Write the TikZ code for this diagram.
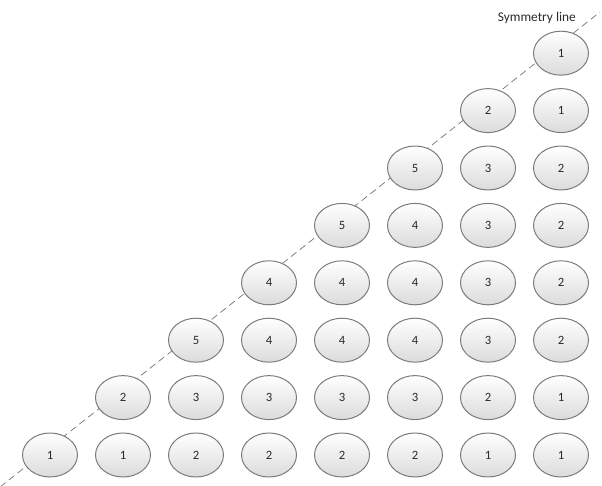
\documentclass[tikz,border=0pt]{standalone}
\usepackage{fontspec}
\setmainfont{Carlito}
\definecolor{rimgray}{HTML}{7A7A7A}
\definecolor{txtgray}{HTML}{2A2A2A}
\tikzset{
  cell/.style={ellipse,draw=rimgray,line width=0.7pt,top color=white,bottom color=black!14,
    minimum width=1.375cm,minimum height=1.1cm,inner sep=0pt,
    font=\fontsize{9}{10.8}\selectfont,text=txtgray},
  symline/.style={dashed,dash pattern=on 5pt off 3pt,color=black!55,line width=0.5pt}
}
\usetikzlibrary{shapes.geometric}

\begin{document}
\begin{tikzpicture}
	\useasboundingbox (0,0) rectangle (15.05,12.125);
	% symmetry line (behind the cells)
	\coordinate (symA) at (0,-0.05);
	\coordinate (symB) at (15.0,11.825);
	\draw[symline] (symA) -- (symB);
	\node[font=\fontsize{9.5}{11}\selectfont,text=txtgray] (symlabel) at (13.42,11.68) {Symmetry line};
	% row 1
	\node[cell] (c11) at (1.25,0.75) {1};
	\node[cell] (c12) at (3.075,0.75) {1};
	\node[cell] (c13) at (4.9,0.75) {2};
	\node[cell] (c14) at (6.725,0.75) {2};
	\node[cell] (c15) at (8.55,0.75) {2};
	\node[cell] (c16) at (10.375,0.75) {2};
	\node[cell] (c17) at (12.2,0.75) {1};
	\node[cell] (c18) at (14.025,0.75) {1};
	% row 2
	\node[cell] (c22) at (3.075,2.185) {2};
	\node[cell] (c23) at (4.9,2.185) {3};
	\node[cell] (c24) at (6.725,2.185) {3};
	\node[cell] (c25) at (8.55,2.185) {3};
	\node[cell] (c26) at (10.375,2.185) {3};
	\node[cell] (c27) at (12.2,2.185) {2};
	\node[cell] (c28) at (14.025,2.185) {1};
	% row 3
	\node[cell] (c33) at (4.9,3.62) {5};
	\node[cell] (c34) at (6.725,3.62) {4};
	\node[cell] (c35) at (8.55,3.62) {4};
	\node[cell] (c36) at (10.375,3.62) {4};
	\node[cell] (c37) at (12.2,3.62) {3};
	\node[cell] (c38) at (14.025,3.62) {2};
	% row 4
	\node[cell] (c44) at (6.725,5.055) {4};
	\node[cell] (c45) at (8.55,5.055) {4};
	\node[cell] (c46) at (10.375,5.055) {4};
	\node[cell] (c47) at (12.2,5.055) {3};
	\node[cell] (c48) at (14.025,5.055) {2};
	% row 5
	\node[cell] (c55) at (8.55,6.49) {5};
	\node[cell] (c56) at (10.375,6.49) {4};
	\node[cell] (c57) at (12.2,6.49) {3};
	\node[cell] (c58) at (14.025,6.49) {2};
	% row 6
	\node[cell] (c66) at (10.375,7.925) {5};
	\node[cell] (c67) at (12.2,7.925) {3};
	\node[cell] (c68) at (14.025,7.925) {2};
	% row 7
	\node[cell] (c77) at (12.2,9.36) {2};
	\node[cell] (c78) at (14.025,9.36) {1};
	% row 8
	\node[cell] (c88) at (14.025,10.795) {1};
\end{tikzpicture}
\end{document}
